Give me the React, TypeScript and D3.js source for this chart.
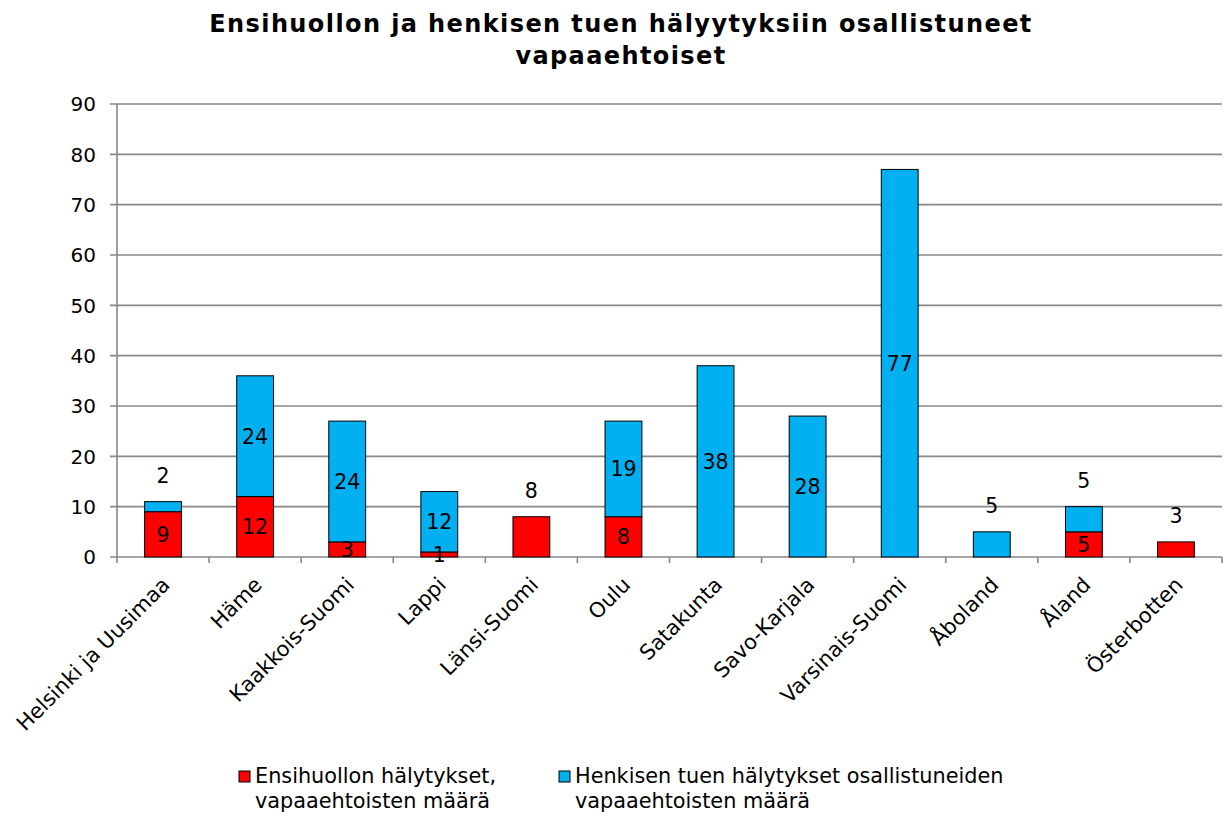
import React from "react";
import * as d3 from "d3";

const categories = [
  "Helsinki ja Uusimaa", "Häme", "Kaakkois-Suomi", "Lappi", "Länsi-Suomi", "Oulu",
  "Satakunta", "Savo-Karjala", "Varsinais-Suomi", "Åboland", "Åland", "Österbotten",
];
const ensihuolto = [9, 12, 3, 1, 8, 8, 0, 0, 0, 0, 5, 3];
const henkinen = [2, 24, 24, 12, 0, 19, 38, 28, 77, 5, 5, 0];
const yTicks = [0, 10, 20, 30, 40, 50, 60, 70, 80, 90];
const seriesNames = [
  ["Ensihuollon hälytykset,", "vapaaehtoisten määrä"],
  ["Henkisen tuen hälytykset osallistuneiden", "vapaaehtoisten määrä"],
];
const titleLines = ["Ensihuollon ja henkisen tuen hälyytyksiin osallistuneet", "vapaaehtoiset"];

const W = 1227, H = 817;
const left = 117, right = 1222, top = 104, bottom = 557;
const colors = ["#FF0000", "#00B0F0"];
const font = "Verdana, 'DejaVu Sans', sans-serif";

export default function App() {
  const x = d3.scaleBand<string>().domain(categories).range([left, right]).paddingInner(0).paddingOuter(0);
  const y = d3.scaleLinear().domain([0, 90]).range([bottom, top]);
  const bw = x.bandwidth() * 0.4;
  const grid = "#888888";

  const data = categories.map((c, i) => ({ c, v: [ensihuolto[i], henkinen[i]] }));
  const stack = d3.stack<any>().keys(["0", "1"]).value((d: any, k: string) => d.v[+k]);
  const series = stack(data);

  const labels: any[] = [];
  series.forEach((s, si) => {
    s.forEach((seg, i) => {
      const val = seg[1] - seg[0];
      if (val <= 0) return;
      const isTop = si === series.length - 1 || series.slice(si + 1).every((t) => t[i][1] - t[i][0] === 0);
      const cx = (x(categories[i]) as number) + x.bandwidth() / 2;
      const cy = isTop && val < 10 ? y(seg[1]) - 26 : y((seg[0] + seg[1]) / 2);
      labels.push({ key: `${si}-${i}`, cx, cy, val });
    });
  });

  return (
    <svg width={W} height={H} style={{ position: "absolute", left: 0, top: 0, background: "#fff" }} fontFamily={font}>
      {titleLines.map((t, i) => (
        <text key={t} x={621} y={32 + i * 32} textAnchor="middle" fontWeight="bold" fontSize={24} letterSpacing={1.4}>{t}</text>
      ))}
      {yTicks.map((t) => (
        <g key={t}>
          <line x1={left - 7} x2={right} y1={y(t)} y2={y(t)} stroke={grid} strokeWidth={1.6} />
          <text x={left - 21} y={y(t)} dy="0.36em" textAnchor="end" fontSize={20}>{t}</text>
        </g>
      ))}
      <line x1={left} x2={left} y1={top} y2={bottom} stroke={grid} strokeWidth={1.6} />
      {categories.concat([""]).map((_, i) => {
        const xx = left + i * x.bandwidth();
        return <line key={i} x1={xx} x2={xx} y1={bottom} y2={bottom + 6} stroke={grid} strokeWidth={1.6} />;
      })}
      {series.map((s, si) => (
        <g key={si}>
          {s.map((seg, i) =>
            seg[1] - seg[0] > 0 ? (
              <rect
                key={i}
                x={(x(categories[i]) as number) + (x.bandwidth() - bw) / 2}
                y={y(seg[1])}
                width={bw}
                height={y(seg[0]) - y(seg[1])}
                fill={colors[si]}
                stroke="#000"
                strokeWidth={1}
              />
            ) : null
          )}
        </g>
      ))}
      {labels.map((l) => (
        <text key={l.key} x={l.cx} y={l.cy} dy="0.36em" textAnchor="middle" fontSize={20.5}>{l.val}</text>
      ))}
      {categories.map((c) => {
        const cx = (x(c) as number) + x.bandwidth() / 2;
        return (
          <text key={c} transform={`translate(${cx - 3},${575}) rotate(-45)`} dy="0.75em" textAnchor="end" fontSize={21}>{c}</text>
        );
      })}
      {seriesNames.map((lines, si) => {
        const lx = si === 0 ? 239 : 559;
        return (
          <g key={si}>
            <rect x={lx} y={771} width={11} height={11} fill={colors[si]} stroke="#000" strokeWidth={1} />
            {lines.map((ln, li) => (
              <text key={li} x={lx + 16} y={783 + li * 25} fontSize={20.8}>{ln}</text>
            ))}
          </g>
        );
      })}
    </svg>
  );
}
